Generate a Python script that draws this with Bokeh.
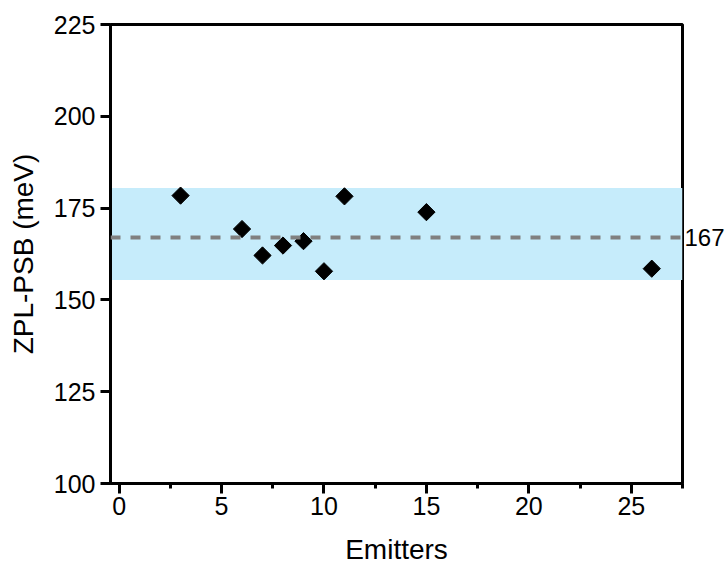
import math

from bokeh.embed import file_html
from bokeh.models import BoxAnnotation, LinearAxis, Range1d, SingleIntervalTicker, Span
from bokeh.plotting import figure
from bokeh.resources import INLINE

# Emitter index and measured ZPL-PSB energy separation (meV)
emitters = [3, 6, 7, 8, 9, 10, 11, 15, 26]
zpl_psb = [178.4, 169.3, 162.1, 164.8, 166.0, 157.8, 178.2, 173.9, 158.5]

# Average separation and the spread band around it
mean_value = 167
band_low = 155.4
band_high = 180.5

y_ticks = [100, 125, 150, 175, 200, 225]

FONT = "Liberation Sans"

p = figure(
    width=727,
    height=567,
    output_backend="svg",
    toolbar_location=None,
    x_range=Range1d(-0.42, 27.5),
    y_range=Range1d(100, 225),
    min_border_left=110,
    min_border_right=45,
    min_border_top=24,
    min_border_bottom=82,
    background_fill_color="white",
    border_fill_color="white",
)
p.grid.visible = False
p.outline_line_color = "black"
p.outline_line_width = 3

# Spread band and mean line
p.add_layout(BoxAnnotation(bottom=band_low, top=band_high,
                           fill_color="#c6ecfb", fill_alpha=1.0,
                           line_alpha=0, level="underlay"))
p.add_layout(Span(location=mean_value, dimension="width",
                  line_color="#808080", line_width=4, line_dash="10 10"))

# Mean value written just outside the right edge of the frame
mean_axis = LinearAxis(ticker=[mean_value])
mean_axis.axis_line_color = None
mean_axis.major_tick_line_color = None
mean_axis.minor_tick_line_color = None
mean_axis.major_tick_out = 0
mean_axis.major_tick_in = 0
mean_axis.major_label_standoff = 2
mean_axis.major_label_text_font = FONT
mean_axis.major_label_text_font_size = "24px"
mean_axis.major_label_text_color = "black"
p.add_layout(mean_axis, "right")

# Data points as black diamonds
p.scatter(emitters, zpl_psb, marker="square", angle=math.pi / 4, size=12.2,
          fill_color="black", line_color="black", line_width=1)

# Axes
p.xaxis.ticker = SingleIntervalTicker(interval=5, num_minor_ticks=2)
p.yaxis[0].ticker = y_ticks
p.xaxis.axis_label = "Emitters"
p.yaxis[0].axis_label = "ZPL-PSB (meV)"

for ax in (p.xaxis[0], p.yaxis[0]):
    ax.axis_line_width = 3
    ax.axis_line_color = "black"
    ax.major_tick_line_width = 3
    ax.major_tick_line_color = "black"
    ax.major_tick_out = 10
    ax.major_tick_in = 0
    ax.minor_tick_line_width = 3
    ax.minor_tick_line_color = "black"
    ax.minor_tick_out = 5
    ax.minor_tick_in = 0
    ax.major_label_text_font = FONT
    ax.major_label_text_font_size = "25px"
    ax.major_label_text_color = "black"
    ax.axis_label_text_font = FONT
    ax.axis_label_text_font_size = "28px"
    ax.axis_label_text_font_style = "normal"
    ax.axis_label_text_color = "black"

p.yaxis[0].minor_tick_line_color = None
p.xaxis[0].major_label_standoff = 3
p.yaxis[0].major_label_standoff = 5
p.xaxis[0].axis_label_standoff = 16
p.yaxis[0].axis_label_standoff = 12

open("out.html", "w").write(file_html(p, INLINE))
